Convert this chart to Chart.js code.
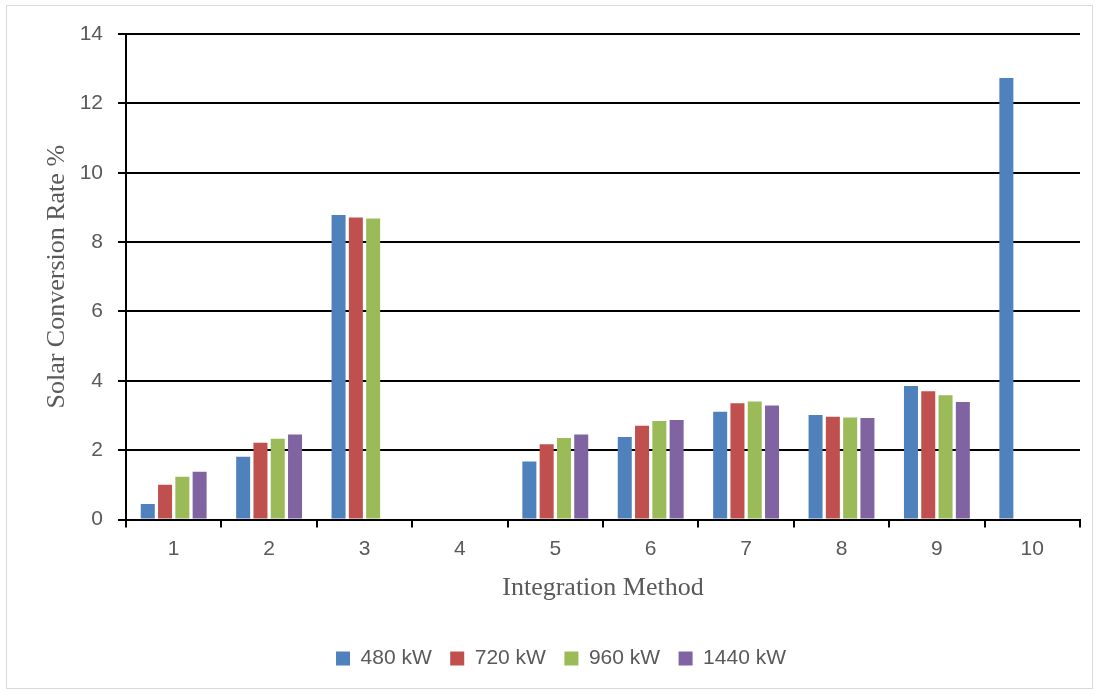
<!DOCTYPE html>
<html>
<head>
<meta charset="utf-8">
<script src="https://cdn.jsdelivr.net/npm/chart.js@4/dist/chart.umd.min.js"></script>
<style>
  html, body { margin: 0; padding: 0; background: #ffffff; }
  #wrap { position: relative; width: 1101px; height: 696px; }
  #frame { position: absolute; left: 6px; top: 5px; width: 1087px; height: 684px; border: 1px solid #d9d9d9; box-sizing: border-box; pointer-events: none; }
  canvas { position: absolute; left: 0; top: 0; }
</style>
</head>
<body>
<div id="wrap">
  <canvas id="chart" width="1101" height="696"></canvas>
  <div id="frame"></div>
</div>
<script>
// Integration methods on the x axis
const categories = ['1', '2', '3', '4', '5', '6', '7', '8', '9', '10'];

// Solar conversion rate (%) per plant size; null = no result for that method
const kw480  = [0.45, 1.81, 8.78, null, 1.67, 2.38, 3.11, 3.01, 3.85, 12.73];
const kw720  = [1.00, 2.21, 8.71, null, 2.17, 2.70, 3.35, 2.96, 3.70, null];
const kw960  = [1.23, 2.33, 8.68, null, 2.35, 2.84, 3.40, 2.94, 3.58, null];
const kw1440 = [1.38, 2.45, null, null, 2.45, 2.87, 3.29, 2.93, 3.39, null];

const seriesNames = ['480 kW', '720 kW', '960 kW', '1440 kW'];
const yTicks = [0, 2, 4, 6, 8, 10, 12, 14];

const colors = ['#4F81BD', '#C0504D', '#9BBB59', '#8064A2'];
const textColor = '#595959';
const sansFont = "'Liberation Sans', Arial, sans-serif";
const serifFont = "'Liberation Serif', 'Times New Roman', serif";

const seriesValues = [kw480, kw720, kw960, kw1440];

new Chart(document.getElementById('chart'), {
  type: 'bar',
  data: {
    labels: categories,
    datasets: seriesValues.map((vals, i) => ({
      label: seriesNames[i],
      data: vals,
      backgroundColor: colors[i],
      borderWidth: 0,
      categoryPercentage: 0.725,
      barPercentage: 0.81
    }))
  },
  options: {
    responsive: false,
    animation: false,
    devicePixelRatio: 1,
    layout: { padding: { left: 42, right: 21, top: 34, bottom: 17 } },
    plugins: {
      tooltip: { enabled: false },
      legend: {
        position: 'bottom',
        labels: {
          color: textColor,
          font: { family: sansFont, size: 21 },
          boxWidth: 14,
          boxHeight: 14,
          padding: 18.5
        }
      }
    },
    scales: {
      x: {
        offset: true,
        afterFit(scale) { scale.height = 110; },
        grid: {
          offset: true,
          drawOnChartArea: false,
          drawTicks: true,
          tickLength: 8,
          color: '#000000',
          lineWidth: 2
        },
        border: { display: true, color: '#000000', width: 2 },
        ticks: {
          color: textColor,
          font: { family: sansFont, size: 21 },
          padding: 9.4,
          maxRotation: 0
        },
        title: {
          display: true,
          text: 'Integration Method',
          color: textColor,
          font: { family: serifFont, size: 26 },
          padding: { top: 0, bottom: 25.4 }
        }
      },
      y: {
        min: 0,
        max: 14,
        afterFit(scale) { scale.width = 84; },
        afterBuildTicks(scale) { scale.ticks = yTicks.map(v => ({ value: v })); },
        grid: {
          drawTicks: true,
          tickLength: 8,
          color: '#000000',
          lineWidth: 2
        },
        border: { display: true, color: '#000000', width: 2 },
        ticks: {
          color: textColor,
          font: { family: sansFont, size: 21 },
          padding: 15
        },
        title: {
          display: true,
          text: 'Solar Conversion Rate %',
          color: textColor,
          font: { family: serifFont, size: 26 },
          padding: { top: 0, bottom: 0 }
        }
      }
    }
  }
});
</script>
</body>
</html>
